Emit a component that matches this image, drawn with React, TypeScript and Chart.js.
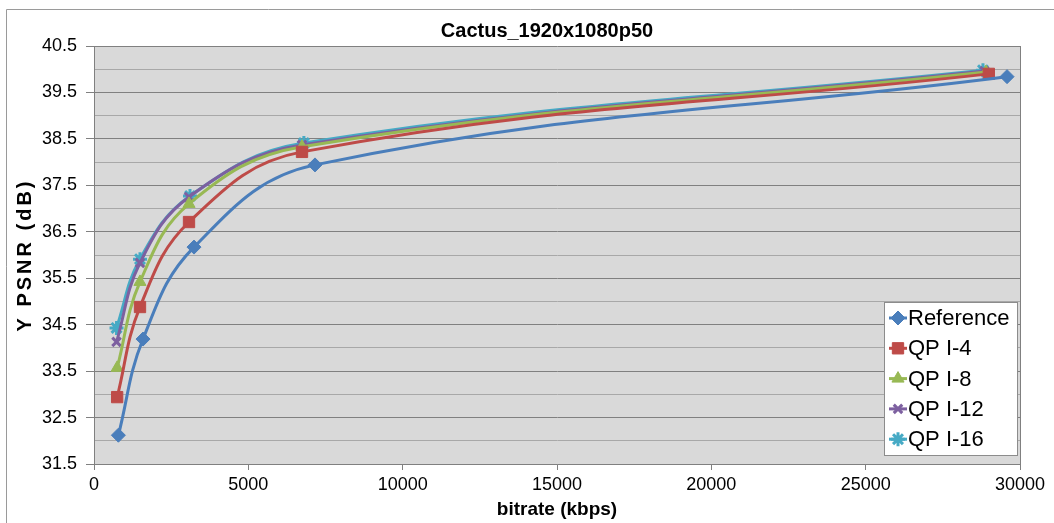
import React, { useEffect, useRef } from "react";
import { Chart, registerables } from "chart.js";
import { drawPoint } from "chart.js/helpers";

Chart.register(...registerables);

const chartTitle = "Cactus_1920x1080p50";
const xAxisTitle = "bitrate (kbps)";
const yAxisTitle = "Y PSNR (dB)";

const seriesNames = ["Reference", "QP I-4", "QP I-8", "QP I-12", "QP I-16"];

const bitrateRef = [790, 1588, 3240, 7160, 29580];
const psnrRef = [32.12, 34.19, 36.17, 37.94, 39.84];

const bitrateQP4 = [750, 1490, 3078, 6739, 28990];
const psnrQP4 = [32.94, 34.88, 36.71, 38.22, 39.9];

const bitrateQP8 = [750, 1490, 3078, 6739, 28900];
const psnrQP8 = [33.57, 35.42, 37.1, 38.33, 39.94];

const bitrateQP12 = [730, 1490, 3078, 6739, 28850];
const psnrQP12 = [34.13, 35.83, 37.25, 38.37, 39.96];

const bitrateQP16 = [730, 1490, 3110, 6800, 28800];
const psnrQP16 = [34.43, 35.91, 37.27, 38.41, 39.98];

const xMin = 0;
const xMax = 30000;
const xStep = 5000;
const yMin = 31.5;
const yMax = 40.5;
const yStep = 0.5;

const colors = ["#4A7EBB", "#BE4B48", "#98B954", "#7D60A0", "#46AAC5"];
const pointStyles = ["rectRot", "rect", "triangle", "crossRot", "star"];
const pointRadii = [7, 8, 7, 6, 7];
const pointBorders = [1, 1, 1, 3, 3];

const FONT = "'Liberation Sans', Arial, sans-serif";

function toXY(xs: number[], ys: number[]) {
  return xs.map((x, i) => ({ x, y: ys[i] }));
}

const backgroundPlugin = {
  id: "plotBg",
  beforeDraw(chart: any) {
    const { ctx, chartArea } = chart;
    ctx.save();
    ctx.fillStyle = "#ffffff";
    ctx.fillRect(0, 0, chart.width, chart.height);
    ctx.strokeStyle = "#9a9a9a";
    ctx.lineWidth = 1;
    ctx.beginPath();
    ctx.moveTo(6.5, chart.height + 5);
    ctx.lineTo(6.5, 9.5);
    ctx.lineTo(chart.width + 5, 9.5);
    ctx.stroke();
    ctx.fillStyle = "#D9D9D9";
    ctx.fillRect(chartArea.left, chartArea.top, chartArea.right - chartArea.left, chartArea.bottom - chartArea.top);
    ctx.restore();
  },
  afterDatasetsDraw(chart: any) {
    const { ctx, chartArea } = chart;
    ctx.save();
    ctx.strokeStyle = "#808080";
    ctx.lineWidth = 1;
    ctx.beginPath();
    ctx.moveTo(Math.round(chartArea.right) + 0.5, chartArea.top);
    ctx.lineTo(Math.round(chartArea.right) + 0.5, chartArea.bottom);
    ctx.stroke();
    ctx.restore();
  },
};

const titleLegendPlugin = {
  id: "titleLegend",
  afterDraw(chart: any) {
    const { ctx, chartArea } = chart;
    ctx.save();
    ctx.fillStyle = "#000";
    ctx.font = `bold 20px ${FONT}`;
    ctx.textAlign = "center";
    ctx.textBaseline = "middle";
    ctx.fillText(chartTitle, 547, 31);

    ctx.save();
    ctx.translate(25, (chartArea.top + chartArea.bottom) / 2);
    ctx.rotate(-Math.PI / 2);
    ctx.font = `bold 20px ${FONT}`;
    try {
      (ctx as any).letterSpacing = "3px";
    } catch (e) {}
    ctx.textAlign = "center";
    ctx.textBaseline = "middle";
    ctx.fillText(yAxisTitle, 0, 0);
    ctx.restore();

    const bx = 884.5, by = 302.5, bw = 133, bh = 153;
    ctx.fillStyle = "#ffffff";
    ctx.fillRect(bx, by, bw, bh);
    ctx.strokeStyle = "#8c8c8c";
    ctx.lineWidth = 1;
    ctx.strokeRect(bx, by, bw, bh);
    ctx.font = `22px ${FONT}`;
    ctx.textAlign = "left";
    ctx.textBaseline = "middle";
    chart.data.datasets.forEach((ds: any, i: number) => {
      const y = 318 + i * 30.3;
      ctx.strokeStyle = ds.borderColor;
      ctx.lineWidth = 3;
      ctx.beginPath();
      ctx.moveTo(889, y);
      ctx.lineTo(907, y);
      ctx.stroke();
      ctx.fillStyle = ds.pointBackgroundColor;
      ctx.strokeStyle = ds.pointBorderColor;
      ctx.lineWidth = ds.pointBorderWidth;
      drawPoint(ctx, { pointStyle: ds.pointStyle, radius: ds.pointRadius, rotation: 0, borderWidth: ds.pointBorderWidth } as any, 898, y);
      ctx.fillStyle = "#000";
      ctx.fillText(ds.label, 908, y + 1);
    });
    ctx.restore();
  },
};

export default function App() {
  const canvasRef = useRef<HTMLCanvasElement | null>(null);

  useEffect(() => {
    if (!canvasRef.current) return;
    const xsList = [bitrateRef, bitrateQP4, bitrateQP8, bitrateQP12, bitrateQP16];
    const ysList = [psnrRef, psnrQP4, psnrQP8, psnrQP12, psnrQP16];
    const datasets = seriesNames.map((name, i) => ({
      label: name,
      data: toXY(xsList[i], ysList[i]),
      borderColor: colors[i],
      backgroundColor: colors[i],
      pointBackgroundColor: colors[i],
      pointBorderColor: colors[i],
      pointStyle: pointStyles[i],
      pointRadius: pointRadii[i],
      pointBorderWidth: pointBorders[i],
      borderWidth: 3,
      tension: 0.4,
      showLine: true,
      fill: false,
    }));

    const chart = new Chart(canvasRef.current, {
      type: "scatter",
      data: { datasets },
      plugins: [backgroundPlugin, titleLegendPlugin],
      options: {
        animation: false,
        responsive: false,
        layout: { padding: { top: 46, right: 34, bottom: 0, left: 0 } },
        plugins: {
          legend: { display: false },
          title: { display: false },
          tooltip: { enabled: false },
        },
        scales: {
          x: {
            type: "linear",
            min: xMin,
            max: xMax,
            afterFit: (scale: any) => {
              scale.height = 59;
            },
            ticks: {
              stepSize: xStep,
              color: "#000",
              font: { family: FONT, size: 18 },
              padding: 4,
              maxRotation: 0,
              callback: (v: any) => String(v),
            },
            grid: {
              drawOnChartArea: false,
              drawTicks: true,
              tickLength: 6,
              color: "#808080",
            },
            border: { display: true, color: "#808080", width: 1 },
            title: {
              display: true,
              text: xAxisTitle,
              color: "#000",
              font: { family: FONT, size: 19, weight: "bold" },
              padding: { top: 0, bottom: 2 },
            },
          },
          y: {
            type: "linear",
            min: yMin,
            max: yMax,
            afterFit: (scale: any) => {
              scale.width = 94;
            },
            ticks: {
              stepSize: yStep,
              color: "#000",
              font: { family: FONT, size: 18 },
              padding: 9,
              autoSkip: false,
              callback: (v: any) => (Math.abs(v % 1) > 0.01 ? Number(v).toFixed(1) : ""),
            },
            grid: {
              drawTicks: true,
              tickLength: 8,
              color: (ctx: any) => (ctx.tick && Math.abs(ctx.tick.value % 1) < 0.01 ? "#A8A8A8" : "#808080"),
              tickColor: (ctx: any) => (ctx.tick && Math.abs(ctx.tick.value % 1) < 0.01 ? "rgba(0,0,0,0)" : "#808080"),
            },
            border: { display: true, color: "#808080", width: 1 },
            title: { display: false },
          },
        },
      } as any,
    });
    return () => chart.destroy();
  }, []);

  return (
    <div style={{ position: "fixed", left: 0, top: 0, width: 1054, height: 523, background: "#fff" }}>
      <canvas ref={canvasRef} width={1054} height={523} style={{ display: "block" }} />
    </div>
  );
}
